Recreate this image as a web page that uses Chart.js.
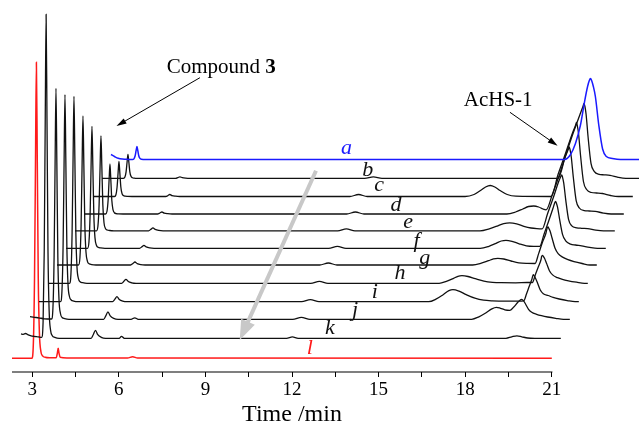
<!DOCTYPE html>
<html>
<head>
<meta charset="utf-8">
<script src="https://cdn.jsdelivr.net/npm/chart.js@4.4.0/dist/chart.umd.min.js"></script>
<style>
  html, body { margin: 0; padding: 0; background: #fff; }
</style>
</head>
<body>
<canvas id="myChart" width="639" height="429"></canvas>
<script>
// chromatograms, time (min) before stacking, signal in plot units

var timeA = [2.3, 2.42, 2.55, 2.7, 2.9, 3.045, 3.095, 3.135, 3.17, 3.2, 3.23, 3.265, 3.305, 3.355, 3.5, 18.01, 18.22, 18.39, 18.56, 18.7, 18.81, 18.87, 18.91, 18.95, 19.01, 19.08, 19.2, 19.33, 19.46, 19.67, 19.95, 21];
var sigA  = [5, 3, 1.2, 0.4, 0.1, 0, 0.65, 3.5, 8.8, 13, 8.8, 3.5, 1.1, 0.3, 0, 0, 5, 16, 34, 57, 73, 79, 81, 79, 73, 63, 34, 10.5, 3, 1, 0, 0];

var timeB = [2.3, 3.045, 3.095, 3.135, 3.17, 3.2, 3.23, 3.265, 3.305, 3.355, 3.415, 3.5, 3.65, 4.85, 4.93, 5.0, 5.08, 5.2, 5.35, 11.4, 11.7, 12.0, 18.1, 18.35, 18.62, 18.86, 18.965, 19.0, 19.03, 19.07, 19.14, 19.24, 19.35, 19.52, 19.69, 19.9, 20.18, 20.45, 21];
var sigB  = [0, 0, 1.2, 6.5, 16.3, 24, 16.3, 6.5, 2, 0.6, 0.2, 0, 0, 0, 0.75, 1.5, 0.7, 0.2, 0, 0, 1.5, 0, 0, 22, 45, 64, 72, 75, 72, 64, 41, 15, 7, 4, 3.5, 3, 1, 0, 0];

var timeC = [2.3, 3.045, 3.095, 3.135, 3.17, 3.2, 3.23, 3.265, 3.305, 3.355, 3.415, 3.5, 3.65, 4.82, 4.9, 4.96, 5.04, 5.16, 5.3, 11.2, 11.5, 11.8, 15.19, 15.5, 15.75, 15.9, 16.06, 16.22, 16.4, 16.65, 16.95, 18.17, 18.41, 18.68, 18.905, 19.015, 19.05, 19.08, 19.12, 19.19, 19.29, 19.4, 19.57, 19.74, 19.95, 20.23, 20.5, 21];
var sigC  = [0, 0, 1.75, 9.5, 23.8, 35, 23.8, 9.5, 3, 0.9, 0.3, 0.1, 0, 0, 1, 2, 0.9, 0.3, 0, 0, 2, 0, 0, 2, 6.5, 9.5, 11, 9.5, 6, 2, 0.3, 0, 22, 44, 63, 71, 74, 70.5, 63, 41, 15, 7, 4, 3.5, 3, 1, 0, 0];

var timeD = [2.3, 3.045, 3.095, 3.135, 3.17, 3.2, 3.23, 3.265, 3.305, 3.355, 3.415, 3.5, 3.65, 4.85, 4.93, 5.0, 5.08, 5.2, 5.35, 11.4, 11.7, 12.0, 16.95, 17.25, 17.5, 17.7, 17.88, 18.05, 18.2, 18.31, 18.53, 18.78, 18.97, 19.075, 19.11, 19.14, 19.18, 19.25, 19.35, 19.46, 19.63, 19.8, 20.01, 20.29, 20.56, 21];
var sigD  = [0, 0, 2.5, 13.5, 34, 50, 34, 13.5, 4.3, 1.25, 0.4, 0.15, 0, 0, 1, 2, 0.9, 0.3, 0, 0, 2, 0, 0, 2, 5, 7.5, 8, 7, 5, 4.2, 20, 40, 57, 64.5, 67, 64, 57, 37, 13.4, 6, 3.4, 3, 2.7, 0.9, 0, 0];

var timeE = [2.3, 3.045, 3.095, 3.135, 3.17, 3.2, 3.23, 3.265, 3.305, 3.355, 3.415, 3.5, 3.65, 4.85, 4.93, 5.0, 5.08, 5.2, 5.35, 11.4, 11.7, 12.0, 16.33, 16.65, 16.95, 17.15, 17.36, 17.6, 17.85, 18.1, 18.3, 18.485, 18.67, 18.88, 19.04, 19.125, 19.16, 19.19, 19.23, 19.3, 19.4, 19.51, 19.68, 19.85, 20.06, 20.34, 20.61, 21];
var sigE  = [0, 0, 4.8, 25.7, 64.6, 95, 64.6, 25.7, 8.1, 2.4, 0.8, 0.3, 0, 0, 1.5, 3, 1.4, 0.4, 0, 0, 2, 0, 0, 2, 5, 7.2, 8, 7, 4.5, 2.8, 2.2, 2, 17, 34, 48, 54, 56, 53.5, 48, 31, 11.2, 5, 3, 2.5, 2.2, 0.7, 0, 0];

var timeF = [2.3, 3.045, 3.095, 3.135, 3.17, 3.2, 3.23, 3.265, 3.305, 3.355, 3.415, 3.5, 3.65, 4.85, 4.93, 5.0, 5.08, 5.2, 5.35, 11.4, 11.7, 12.0, 16.65, 16.95, 17.2, 17.38, 17.54, 17.75, 18.0, 18.25, 18.5, 18.71, 18.86, 19.03, 19.17, 19.225, 19.26, 19.29, 19.33, 19.4, 19.5, 19.61, 19.78, 19.95, 20.16, 20.44, 20.71, 21];
var sigF  = [0, 0, 6.1, 33, 83, 122, 83, 33, 10.4, 3, 1, 0.4, 0, 0, 1.5, 3, 1.4, 0.4, 0, 0, 2, 0, 0, 2, 5, 7.3, 8, 7, 4.5, 2.5, 2, 2, 14, 28, 40, 45, 47, 45, 41, 29, 14, 7.5, 4.2, 3.3, 2.4, 0.9, 0, 0];

var timeG = [2.3, 3.045, 3.095, 3.135, 3.17, 3.2, 3.23, 3.265, 3.305, 3.355, 3.415, 3.5, 3.65, 4.85, 4.93, 5.0, 5.08, 5.2, 5.35, 11.4, 11.7, 12.0, 16.7, 17.0, 17.25, 17.42, 17.57, 17.78, 18.03, 18.3, 18.6, 18.86, 18.985, 19.12, 19.24, 19.275, 19.31, 19.34, 19.38, 19.45, 19.55, 19.66, 19.83, 20.0, 20.21, 20.49, 20.76, 21];
var sigG  = [0, 0, 7.5, 40, 101, 149, 101, 40, 12.7, 3.7, 1.2, 0.45, 0, 0, 1.5, 3, 1.4, 0.4, 0, 0, 2, 0, 0, 1.8, 4.3, 6.1, 6.7, 6, 4, 2.2, 1.6, 1.5, 11.4, 23, 32, 36.5, 38, 36.5, 34, 27, 17, 11.4, 7.6, 5.3, 3.4, 1.5, 0, 0];

var timeH = [2.3, 3.045, 3.095, 3.135, 3.17, 3.2, 3.23, 3.265, 3.305, 3.355, 3.415, 3.5, 3.65, 4.85, 4.93, 5.0, 5.08, 5.2, 5.35, 11.4, 11.7, 12.0, 15.85, 16.1, 16.35, 16.5, 16.64, 16.85, 17.1, 17.4, 17.7, 18.0, 18.5, 18.9, 19.08, 19.18, 19.29, 19.38, 19.4, 19.43, 19.46, 19.5, 19.57, 19.67, 19.78, 19.95, 20.12, 20.33, 20.61, 20.88, 21];
var sigH  = [0, 0, 9.4, 50.5, 127, 187, 127, 50.5, 15.9, 4.7, 1.5, 0.6, 0, 0, 2, 4, 1.8, 0.5, 0, 0, 2, 0, 0, 2, 5, 7, 7.6, 6.8, 4.6, 2.2, 1, 0.6, 0.5, 0.8, 0.8, 8.4, 16.8, 23.8, 26.8, 28, 27, 25, 20, 12.6, 8.4, 5.6, 3.9, 2.5, 1.1, 0, 0];

var timeI = [2.3, 3.045, 3.095, 3.135, 3.17, 3.2, 3.23, 3.265, 3.305, 3.355, 3.415, 3.5, 3.65, 4.85, 4.93, 5.0, 5.08, 5.2, 5.35, 11.4, 11.7, 12.0, 15.8, 16.05, 16.3, 16.5, 16.64, 16.85, 17.1, 17.4, 17.7, 18.0, 18.5, 18.9, 19.09, 19.19, 19.29, 19.38, 19.42, 19.45, 19.49, 19.56, 19.66, 19.77, 19.94, 20.11, 20.32, 20.6, 20.87, 21];
var sigI  = [0, 0, 10.4, 56, 141, 207, 141, 56, 17.6, 5.2, 1.7, 0.6, 0, 0, 2.5, 5, 2.3, 0.6, 0, 0, 2, 0, 0, 2.5, 7, 11, 12, 10.5, 7, 3.5, 1.5, 0.8, 0.5, 0.6, 0.8, 8, 16, 23, 27, 26, 24, 19.4, 12, 8, 6.2, 4.3, 2.7, 1.1, 0, 0];

var timeJ = [2.3, 2.45, 2.6, 2.8, 3.045, 3.095, 3.135, 3.17, 3.2, 3.23, 3.265, 3.305, 3.355, 3.415, 3.5, 3.65, 4.85, 4.93, 5.0, 5.08, 5.2, 5.35, 5.8, 5.93, 6.05, 11.4, 11.7, 12.0, 17.6, 17.85, 18.1, 18.3, 18.46, 18.6, 18.75, 18.92, 19.05, 19.2, 19.33, 19.4, 19.47, 19.57, 19.68, 19.85, 20.02, 20.23, 20.51, 20.78, 21];
var sigJ  = [2.6, 2, 1.5, 0.5, 0.3, 11.5, 62, 157, 231, 157, 62, 19.6, 5.8, 1.8, 0.7, 0, 0, 3.7, 7.5, 3.4, 0.9, 0, 0, 1.5, 0, 0, 2, 0, 0, 2.5, 6.5, 10.5, 12, 11, 9.5, 9, 12, 17, 20, 18.5, 15, 10, 7, 5, 3.6, 2.3, 1, 0, 0];

var timeK = [2.3, 2.38, 2.46, 2.55, 2.65, 2.75, 2.9, 3.015, 3.065, 3.105, 3.14, 3.17, 3.2, 3.235, 3.275, 3.325, 3.385, 3.47, 3.62, 4.73, 4.81, 4.88, 4.96, 5.08, 5.23, 5.7, 5.78, 5.88, 11.5, 11.7, 11.9, 19.1, 19.3, 19.48, 19.65, 19.85, 20.1, 21];
var sigK  = [4.5, 4, 4.8, 3.5, 2.5, 2, 1.5, 1, 16, 87, 220, 324, 220, 87, 27.5, 8, 2.6, 1, 0, 0, 4, 8, 3.6, 1, 0, 0, 2, 0, 0, 1.5, 0, 0, 1.5, 2.5, 1.5, 0.3, 0, 0];

var timeL = [2.3, 2.9, 2.99, 3.04, 3.08, 3.115, 3.145, 3.175, 3.21, 3.25, 3.3, 3.36, 3.45, 3.6, 3.83, 3.87, 3.9, 3.93, 3.97, 4.2, 6.3, 6.48, 6.65, 21];
var sigL  = [0, 0, 0, 15, 80, 200, 296, 200, 80, 25, 7, 2.5, 1, 0.5, 0.5, 5, 10, 5, 1, 0.3, 0.3, 1.5, 0.3, 0];

var traceNames = ['a', 'b', 'c', 'd', 'e', 'f', 'g', 'h', 'i', 'j', 'k', 'l'];
var traceTimes = [timeA, timeB, timeC, timeD, timeE, timeF, timeG, timeH, timeI, timeJ, timeK, timeL];
var traceSigs  = [sigA, sigB, sigC, sigD, sigE, sigF, sigG, sigH, sigI, sigJ, sigK, sigL];

var majorTicks = [3, 6, 9, 12, 15, 18, 21];
var minorTicks = [4.5, 7.5, 10.5, 13.5, 16.5, 19.5];
var axisStart = 2.3, axisEnd = 21;

// stacking (waterfall) layout
var stepX = 0.3117;   // min moved right per trace
var baseY = [212.5, 193.7, 175.5, 158, 141.2, 123.7, 107, 88.7, 70.3, 52.7, 33.7, 13.7];
var colors = ['#1a1aff', '#111', '#111', '#111', '#111', '#111', '#111', '#111', '#111', '#111', '#111', '#ff1a1a'];

// label spots, in axis units
var labelX = [13.89, 14.62, 15.02, 15.60, 16.02, 16.31, 16.60, 15.74, 14.87, 14.18, 13.31, 12.62];
var labelY = [223.7, 202, 187, 166.3, 149.7, 130.3, 113.7, 98.7, 79.3, 62, 43.7, 23.7];

var serif = "'Liberation Serif', 'Times New Roman', serif";

var datasets = [];
for (var n = 0; n < traceNames.length; n++) {
  var shift = (traceNames.length - 1 - n) * stepX;
  var pts = [];
  for (var i = 0; i < traceTimes[n].length; i++) {
    pts.push({ x: traceTimes[n][i] + shift, y: traceSigs[n][i] + baseY[n] });
  }
  datasets.push({
    label: traceNames[n],
    data: pts,
    borderColor: colors[n],
    borderWidth: n == 0 || n == 11 ? 1.5 : 1.3,
    pointRadius: 0,
    cubicInterpolationMode: 'monotone',
    clip: false,
    fill: false
  });
}

function arrow(ctx, x1, y1, x2, y2, color, width, headLen, headW) {
  var ang = Math.atan2(y2 - y1, x2 - x1);
  var bx = x2 - Math.cos(ang) * headLen, by = y2 - Math.sin(ang) * headLen;
  ctx.strokeStyle = color;
  ctx.fillStyle = color;
  ctx.lineWidth = width;
  ctx.beginPath();
  ctx.moveTo(x1, y1);
  ctx.lineTo(bx + Math.cos(ang) * 1, by + Math.sin(ang) * 1);
  ctx.stroke();
  ctx.beginPath();
  ctx.moveTo(x2, y2);
  ctx.lineTo(bx + Math.sin(ang) * headW / 2, by - Math.cos(ang) * headW / 2);
  ctx.lineTo(bx - Math.sin(ang) * headW / 2, by + Math.cos(ang) * headW / 2);
  ctx.closePath();
  ctx.fill();
}

var notes = {
  id: 'notes',
  afterDatasetsDraw: function (chart) {
    var ctx = chart.ctx;
    var xs = chart.scales.x, ys = chart.scales.y;
    var px = function (v) { return xs.getPixelForValue(v); };
    var py = function (v) { return ys.getPixelForValue(v); };
    ctx.save();

    // bottom axis line, stops at 21 min
    ctx.strokeStyle = '#000';
    ctx.lineWidth = 1.2;
    ctx.beginPath();
    ctx.moveTo(px(axisStart), py(0));
    ctx.lineTo(px(axisEnd) + 0.6, py(0));
    ctx.stroke();

    // grey trend arrow
    arrow(ctx, px(12.83), py(201.3), px(10.19), py(32), '#c8c8c8', 4, 20, 15);

    // trace letters
    ctx.font = 'italic 22px ' + serif;
    ctx.textAlign = 'center';
    ctx.textBaseline = 'middle';
    for (var n = 0; n < traceNames.length; n++) {
      ctx.fillStyle = colors[n];
      ctx.fillText(traceNames[n], px(labelX[n]), py(labelY[n]));
    }

    // Compound 3
    ctx.fillStyle = '#000';
    ctx.textAlign = 'left';
    ctx.textBaseline = 'alphabetic';
    ctx.font = '21px ' + serif;
    var cx = px(7.66), cy = py(298.7);
    ctx.fillText('Compound ', cx, cy);
    var w = ctx.measureText('Compound ').width;
    ctx.font = 'bold 21px ' + serif;
    ctx.fillText('3', cx + w, cy);
    arrow(ctx, px(8.81), py(294.3), px(5.92), py(246), '#000', 1, 10, 6);

    // AcHS-1
    ctx.font = '21px ' + serif;
    ctx.fillText('AcHS-1', px(17.95), py(266));
    arrow(ctx, px(19.55), py(259.7), px(21.2), py(226.3), '#000', 1, 10, 6);

    // axis title
    ctx.textAlign = 'center';
    ctx.font = '24px ' + serif;
    ctx.fillText('Time /min', px(12), 421);
    ctx.restore();
  }
};

var ctx = document.getElementById('myChart').getContext('2d');
var chart = new Chart(ctx, {
  type: 'line',
  data: { datasets: datasets },
  plugins: [notes],
  options: {
    responsive: false,
    animation: false,
    devicePixelRatio: 1,
    layout: { padding: { left: 12, right: 0, top: 5, bottom: 0 } },
    plugins: { legend: { display: false }, tooltip: { enabled: false } },
    scales: {
      x: {
        type: 'linear',
        min: axisStart,
        max: 24.02,
        afterBuildTicks: function (s) {
          s.ticks = majorTicks.concat(minorTicks).sort(function (p, q) { return p - q; })
            .map(function (v) { return { value: v }; });
        },
        afterFit: function (s) { s.height = 57; s.paddingRight = 0; },
        grid: { drawOnChartArea: false, drawTicks: true, tickLength: 5, color: '#000', lineWidth: 1 },
        border: { display: false },
        ticks: {
          autoSkip: false,
          maxRotation: 0,
          padding: 2,
          color: '#000',
          font: { family: serif, size: 19 },
          callback: function (v) { return majorTicks.indexOf(v) >= 0 ? String(v) : ''; }
        }
      },
      y: { type: 'linear', min: 0, max: 367, display: false }
    }
  }
});
</script>
</body>
</html>
